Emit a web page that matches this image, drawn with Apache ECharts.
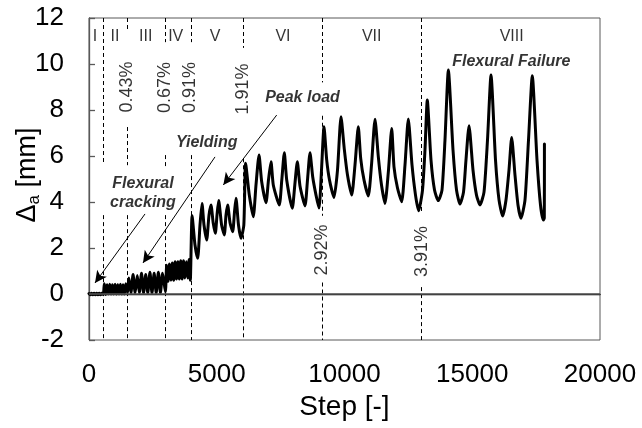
<!DOCTYPE html>
<html><head><meta charset="utf-8">
<script src="https://cdn.jsdelivr.net/npm/echarts@6/dist/echarts.min.js"></script>
<style>html,body{margin:0;padding:0;background:#fff}#c{width:642px;height:428px}</style>
</head><body><div id="c"></div>
<script>
// ---- data: [step, Δa (mm)] ----
const phase1 = [[0,0.02],[50,-0.03],[100,0.03],[150,-0.03],[200,0.03],[250,-0.03],[300,0.03],[350,-0.03],[400,0.03],[450,-0.03],[500,0.03],[560,-0.02]];
const phase2 = [[600,0.45],[650,-0.02],[705,0.4],[755,0],[810,0.42],[860,0],[915,0.4],[965,0],[1020,0.42],[1070,0],[1125,0.4],[1175,0],[1230,0.42],[1280,0],[1335,0.4],[1385,0],[1440,0.45],[1510,0.05]];
const phase3 = [[1560,0.7],[1640,0.05],[1725,0.85],[1805,0.05],[1890,0.8],[1970,0.05],[2055,0.9],[2135,0.05],[2220,0.85],[2300,0.05],[2385,0.95],[2465,0.05],[2550,0.9],[2630,0.05],[2715,0.95],[2795,0.05],[2880,0.9],[2990,0.1]];
const phase4 = [[3040,1.25],[3095,0.55],[3150,1.3],[3205,0.6],[3260,1.35],[3315,0.6],[3370,1.4],[3425,0.65],[3480,1.4],[3535,0.65],[3590,1.45],[3645,0.65],[3700,1.45],[3755,0.7],[3810,1.4],[3865,0.7],[3920,1.5],[3965,0.6]];
const phase5 = [[4035,3.4],[4149,2.13],[4254,1.55],[4344,3.0],[4423,3.94],[4501,3.0],[4606,2.35],[4697,3.43],[4775,3.87],[4860,3.1],[4945,2.64],[5010,3.43],[5075,4.06],[5190,3.0],[5296,2.57],[5362,3.43],[5427,3.87],[5520,3.1],[5624,2.71],[5695,3.57],[5753,4.16],[5851,3.0],[5949,2.42]];
const phase6 = [[6060,3.0],[6130,5.68],[6274,4.3],[6430,3.36],[6536,4.74],[6654,6.04],[6759,4.88],[6928,3.97],[7025,4.96],[7123,5.75],[7213,4.74],[7448,3.87],[7546,4.96],[7644,6.14],[7738,4.96],[7957,3.73],[8055,4.74],[8153,5.75],[8258,4.7],[8454,3.83],[8552,4.96],[8650,6.14],[8755,5.1],[8885,4.3],[9002,3.74]];
const phase7 = [[9100,5.39],[9198,7.27],[9303,5.83],[9413,4.96],[9589,4.2],[9726,5.39],[9863,7.71],[9992,6.3],[10117,5.17],[10282,4.3],[10411,5.61],[10540,7.27],[10634,5.9],[10763,4.96],[10932,4.26],[11057,5.61],[11194,7.6],[11323,5.97],[11448,4.74],[11585,3.94],[11722,5.39],[11847,7.2],[11937,5.53],[12074,4.61],[12238,4.01],[12368,5.61],[12497,7.61],[12642,5.61],[12779,4.3],[12900,3.62]];
const phase8 = [[13053,4.52],[13150,6.26],[13240,8.43],[13385,5.83],[13523,4.52],[13670,4.06],[13816,4.52],[13933,6.7],[14065,9.74],[14247,6.26],[14384,4.52],[14520,3.91],[14658,4.43],[14755,5.83],[14873,7.32],[15029,5.39],[15166,4.3],[15303,3.87],[15460,4.43],[15597,6.7],[15734,9.52],[15910,5.83],[16047,4.09],[16190,3.39],[16321,4.09],[16438,5.39],[16543,6.8],[16673,5.17],[16790,3.87],[16908,3.29],[17065,4.09],[17202,6.7],[17350,9.49],[17534,5.83],[17671,3.87],[17782,3.22],[17820,3.3],[17825,6.52]];

// phase boundaries (step) and visible dashed segments [yFrom, yTo]
const boundarySteps = [560, 1514, 3000, 3992, 6040, 9120, 13020];
const boundarySegments = [
  [[12,5.65],[3.43,-2]],
  [[12,11.4],[7.26,5.6],[3.43,-2]],
  [[12,10.95],[6.04,5.56],[3.43,-2]],
  [[12,10.95],[6.04,-2]],
  [[12,10.7],[5.9,-2]],
  [[12,9.2],[7.75,3.4],[0.5,-2]],
  [[12,3.5],[0.3,-2]]
];

const phaseNames = ['I','II','III','IV','V','VI','VII','VIII'];
const phaseNameSteps = [235, 1018, 2219, 3393, 4932, 7593, 11065, 16544];
const phaseNameY = 11.2;

const driftLabels = ['0.43%','0.67%','0.91%','1.91%','2.92%','3.91%'];
const driftSteps = [1507, 2994, 3973, 6027, 9119, 13033];
const driftY = [9.0, 8.98, 8.98, 8.91, 1.91, 1.85];

const noteTexts = ['Flexural\ncracking','Yielding','Peak load','Flexural Failure'];
const notePos = [[2113,4.39],[4607,6.57],[8356,8.52],[16528,10.1]];
const arrows = [ [[2192,3.48],[235,0.48]], [[4932,5.96],[2113,1.35]], [[7346,7.78],[5257,4.74]] ];

const xTicks = {min:0, max:20000, interval:5000};
const yTicks = {min:-2, max:12, interval:2};

// ---- chart ----
const FONT = '"Liberation Sans", Arial, sans-serif';
const curve = [].concat(phase1, phase2, phase3, phase4, phase5, phase6, phase7, phase8);

const dashData = [];
boundarySteps.forEach((s, i) => boundarySegments[i].forEach(seg => {
  dashData.push([{coord:[s, seg[0]]}, {coord:[s, seg[1]]}]);
}));

const textData = [];
phaseNames.forEach((t, i) => textData.push({value:[phaseNameSteps[i], phaseNameY],
  label:{show:true, position:'inside', formatter:t, fontSize:16, color:'#000', fontFamily:FONT}}));
driftLabels.forEach((t, i) => textData.push({value:[driftSteps[i], driftY[i]],
  label:{show:true, position:'inside', formatter:t, rotate:90, fontSize:18, color:'#000', fontFamily:FONT}}));
noteTexts.forEach((t, i) => textData.push({value:notePos[i],
  label:{show:true, position:'inside', formatter:t, fontSize:16, fontWeight:'bold', fontStyle:'italic', lineHeight:19, color:'#000', fontFamily:FONT}}));

const chart = echarts.init(document.getElementById('c'), null, {renderer:'canvas'});
chart.setOption({
  animation:false,
  backgroundColor:'#fff',
  grid:{left:89, right:42, top:18, bottom:88, show:true, borderColor:'#595959', borderWidth:1, backgroundColor:'transparent'},
  xAxis:{type:'value', min:xTicks.min, max:xTicks.max, interval:xTicks.interval,
    name:'Step [-]', nameLocation:'middle', nameGap:40,
    nameTextStyle:{fontSize:28, color:'#000', fontFamily:FONT},
    axisLine:{show:true, lineStyle:{color:'#000', width:1.3}},
    axisTick:{show:false}, splitLine:{show:false},
    axisLabel:{fontSize:26, color:'#000', fontFamily:FONT, margin:22, formatter:v => String(v)}},
  yAxis:{type:'value', min:yTicks.min, max:yTicks.max, interval:yTicks.interval,
    axisLine:{show:true, lineStyle:{color:'#595959', width:1.3}},
    axisTick:{show:true, inside:true, length:6, lineStyle:{color:'#595959', width:1.3}},
    splitLine:{show:false},
    axisLabel:{fontSize:26, color:'#000', fontFamily:FONT, margin:25, formatter:v => String(v)}},
  graphic:[{type:'text', x:28, y:175, rotation:Math.PI/2,
    style:{text:'{d|Δ}{s|a}{d| [mm]}', align:'center', verticalAlign:'middle',
      rich:{d:{fontSize:27, fontFamily:FONT, fill:'#000', lineHeight:30},
            s:{fontSize:17, fontFamily:FONT, fill:'#000', lineHeight:22, verticalAlign:'bottom'}}}}],
  series:[
    {type:'line', silent:true, data:[], symbol:'none',
     markLine:{silent:true, symbol:['none','none'], label:{show:false}, animation:false,
       lineStyle:{type:[4,3], color:'#000', width:1},
       data: dashData.concat([[{coord:[xTicks.min,0], lineStyle:{type:'solid', color:'#595959', width:1.5}}, {coord:[xTicks.max,0]}]])}},
    {type:'line', data:curve, symbol:'none', z:3, smooth:0.2,
     lineStyle:{color:'#000', width:3, join:'round', cap:'round'}},
    {type:'line', silent:true, data:[], symbol:'none', z:4,
     markLine:{silent:true, symbol:['none','arrow'], symbolSize:[9,12], label:{show:false}, animation:false,
       lineStyle:{type:'solid', color:'#000', width:1},
       data: arrows.map(a => [{coord:a[0]}, {coord:a[1]}])}},
    {type:'scatter', silent:true, symbol:'circle', symbolSize:1, z:5,
     itemStyle:{color:'rgba(0,0,0,0)'}, data:textData}
  ]
});
</script></body></html>
